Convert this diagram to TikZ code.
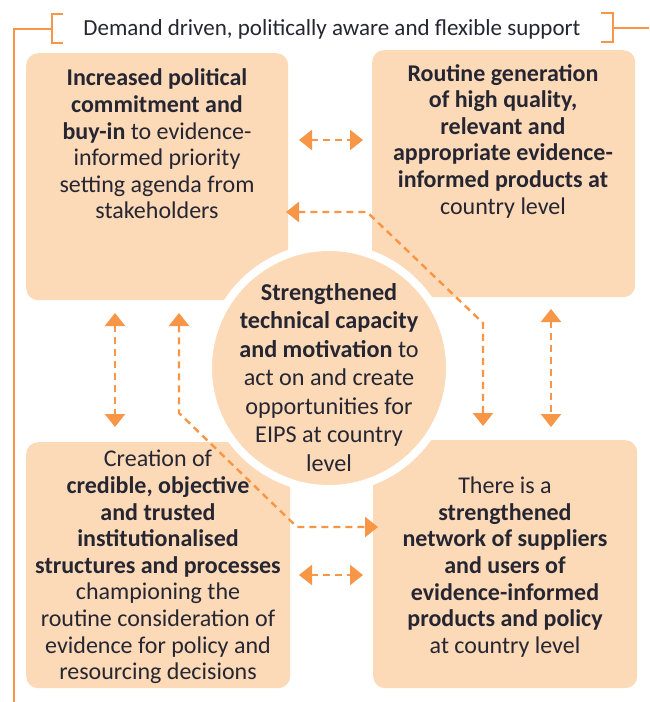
\documentclass[tikz,border=0pt]{standalone}
\usepackage{fontspec}
\setmainfont{Carlito}
\usetikzlibrary{arrows.meta}
\definecolor{peach}{HTML}{FCD9B7}
\definecolor{orng}{HTML}{F79646}
\definecolor{txt}{HTML}{262632}
\begin{document}
\begin{tikzpicture}[x=1pt,y=1pt,
  box/.style={fill=peach, rounded corners=12pt, inner sep=0pt, anchor=north west},
  lbl/.style={text=txt, align=center, inner sep=0pt, font=\fontsize{24}{26.6}\selectfont},
  clbl/.style={text=txt, align=center, inner sep=0pt, font=\fontsize{24.2}{28.5}\selectfont},
  frame/.style={draw=orng, line width=1.8pt},
  arr/.style={draw=orng, line width=2.4pt, dash pattern=on 7pt off 5pt,
    {Triangle[length=13pt,width=20pt]}-{Triangle[length=13pt,width=20pt]}}
]
\fill[white] (0,0) rectangle (649,-702);
\useasboundingbox (0,0) rectangle (649,-702);

% boxes
\node[box, minimum width=262pt, minimum height=247pt] (tl) at (26,-53) {};
\node[box, minimum width=263pt, minimum height=247pt] (tr) at (372,-50) {};
\node[box, minimum width=264pt, minimum height=246pt] (bl) at (26,-442) {};
\node[box, minimum width=264pt, minimum height=248pt] (br) at (373,-440) {};

% centre circle with white ring
\node[circle, fill=peach, draw=white, line width=8pt, minimum size=242pt, inner sep=0pt] (c) at (329,-368) {};

% frame and title
\node[text=txt, font=\fontsize{23}{26}\selectfont, anchor=base, inner sep=0pt] (title) at (332,-35) {Demand driven, politically aware and flexible support};
\coordinate (fb) at (14,-702);
\coordinate (ft) at (14,-29);
\draw[frame] (fb) -- (ft) -- (52,-29);
\draw[frame] (63,-14) -- (52,-14) -- (52,-43) -- (63,-43);
\draw[frame] (601,-13) -- (613,-13) -- (613,-42) -- (601,-42);
\draw[frame] (613,-28) -- (649,-28);

% arrow end points
\coordinate (a1s) at (299,-140); \coordinate (a1e) at (363,-140);
\coordinate (a2s) at (286,-212); \coordinate (a2m) at (367,-212); \coordinate (a2n) at (483,-323); \coordinate (a2e) at (483,-426);
\coordinate (a3s) at (551,-309); \coordinate (a3e) at (551,-427);
\coordinate (a4s) at (115,-313); \coordinate (a4e) at (115,-427);
\coordinate (a5s) at (179,-313); \coordinate (a5m) at (179,-413); \coordinate (a5n) at (297,-527); \coordinate (a5e) at (378,-527);
\coordinate (a6s) at (299,-575); \coordinate (a6e) at (363,-575);

\draw[arr] (a1s) -- (a1e);
\draw[arr] (a2s) -- (a2m) -- (a2n) -- (a2e);
\draw[arr] (a3s) -- (a3e);
\draw[arr] (a4s) -- (a4e);
\draw[arr] (a5s) -- (a5m) -- (a5n) -- (a5e);
\draw[arr] (a6s) -- (a6e);

% texts
\node[lbl] (tlt) at (157,-144) {\textbf{Increased political}\\\textbf{commitment and}\\\textbf{buy-in} to evidence-\\informed priority\\setting agenda from\\stakeholders};
\node[lbl] (trt) at (503,-141) {\textbf{Routine generation}\\\textbf{of high quality,}\\\textbf{relevant and}\\\textbf{appropriate evidence-}\\\textbf{informed products at}\\country level};
\node[lbl] (blt) at (158,-567) {Creation of\\\textbf{credible, objective}\\\textbf{and trusted}\\\textbf{institutionalised}\\\textbf{structures and processes}\\championing the\\routine consideration of\\evidence for policy and\\resourcing decisions};
\node[lbl] (brt) at (505,-567) {There is a\\\textbf{strengthened}\\\textbf{network of suppliers}\\\textbf{and users of}\\\textbf{evidence-informed}\\\textbf{products and policy}\\at country level};
\node[clbl] (ct) at (329,-377.5) {\textbf{Strengthened}\\\textbf{technical capacity}\\\textbf{and motivation} to\\act on and create\\opportunities for\\EIPS at country\\level};
\end{tikzpicture}
\end{document}
